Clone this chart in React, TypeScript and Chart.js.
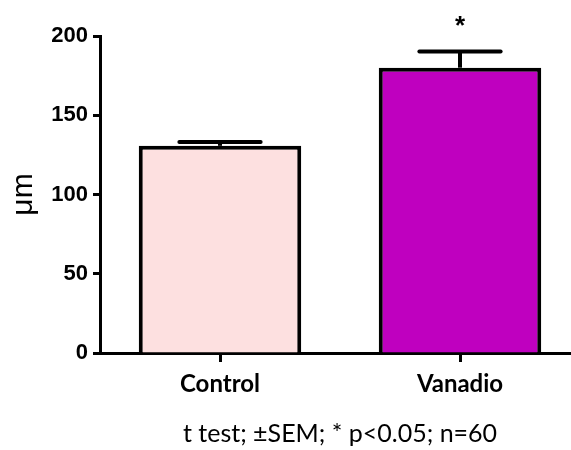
import React, { useEffect, useRef } from "react";
import { Chart, registerables } from "chart.js";

Chart.register(...registerables);

const categories = ["Control", "Vanadio"];
const means = [130.7, 180];
const sems = [2.4, 10.2];
const significant = [false, true];
const barColors = ["#FDE0E0", "#BF00BF"];
const yTickMin = 0;
const yTickMax = 200;
const yTickStep = 50;
const yTitle = "μm";
const footnote = "t test; ±SEM; * p<0.05; n=60";

const errorBarPlugin = {
  id: "errorBars",
  afterDatasetsDraw(chart: any) {
    const ctx = chart.ctx;
    const meta = chart.getDatasetMeta(0);
    const yScale = chart.scales.y;
    meta.data.forEach((bar: any, i: number) => {
      const x = bar.x;
      const base = yScale.getPixelForValue(means[i]);
      const top = yScale.getPixelForValue(means[i] + sems[i]);
      const capHalf = bar.width * 0.25;
      ctx.save();
      ctx.strokeStyle = "#000";
      ctx.lineWidth = 4;
      ctx.beginPath();
      ctx.moveTo(x, base);
      ctx.lineTo(x, top);
      ctx.stroke();
      ctx.lineCap = "round";
      ctx.lineWidth = 4;
      ctx.beginPath();
      ctx.moveTo(x - capHalf, top);
      ctx.lineTo(x + capHalf, top);
      ctx.stroke();
      if (significant[i]) {
        ctx.fillStyle = "#000";
        ctx.font = "bold 26px 'Liberation Sans', Arial, sans-serif";
        ctx.textAlign = "center";
        ctx.textBaseline = "middle";
        ctx.fillText("*", x, top - 25);
      }
      ctx.restore();
    });
  },
};

export default function App() {
  const canvasRef = useRef<HTMLCanvasElement | null>(null);

  useEffect(() => {
    if (!canvasRef.current) return;
    const chart = new Chart(canvasRef.current, {
      type: "bar",
      data: {
        labels: categories,
        datasets: [
          {
            data: means,
            backgroundColor: barColors,
            borderColor: "#000",
            borderWidth: 4,
            categoryPercentage: 1,
            barPercentage: 0.677,
          },
        ],
      },
      options: {
        animation: false,
        responsive: true,
        maintainAspectRatio: false,
        layout: { padding: { top: 36, left: 0, right: 0, bottom: 0 } },
        plugins: {
          legend: { display: false },
          tooltip: { enabled: false },
        },
        scales: {
          x: {
            offset: true,
            grid: {
              offset: false,
              drawOnChartArea: false,
              tickLength: 9,
              tickWidth: 3,
              tickColor: "#000",
            },
            border: { color: "#000", width: 3 },
            ticks: {
              color: "#000",
              padding: 8,
              font: { family: "Lato, 'Open Sans', sans-serif", weight: "bold", size: 24 },
            },
            title: {
              display: true,
              text: footnote,
              color: "#000",
              font: { family: "Lato, 'Open Sans', sans-serif", size: 25 },
              padding: { top: 0, bottom: 1 },
            },
            afterFit(scale: any) {
              scale.height = 97;
            },
          },
          y: {
            min: yTickMin,
            max: yTickMax,
            grid: {
              drawOnChartArea: false,
              tickLength: 7,
              tickWidth: 3,
              tickColor: "#000",
            },
            border: { color: "#000", width: 3 },
            ticks: {
              stepSize: yTickStep,
              color: "#000",
              padding: 5,
              font: { family: "'Liberation Sans', Arial, sans-serif", weight: "bold", size: 22 },
            },
            title: {
              display: true,
              text: yTitle,
              color: "#000",
              font: { family: "'Liberation Sans', Arial, sans-serif", size: 30 },
              padding: { top: 6, bottom: 0 },
            },
            afterFit(scale: any) {
              scale.width = 100;
            },
          },
        },
      },
      plugins: [errorBarPlugin],
    });
    return () => chart.destroy();
  }, []);

  return (
    <div
      style={{
        position: "fixed",
        left: 0,
        top: 0,
        width: 571,
        height: 450,
        overflow: "hidden",
        background: "#fff",
      }}
    >
      <div style={{ position: "relative", width: 580, height: 450 }}>
        <canvas ref={canvasRef} />
      </div>
    </div>
  );
}
